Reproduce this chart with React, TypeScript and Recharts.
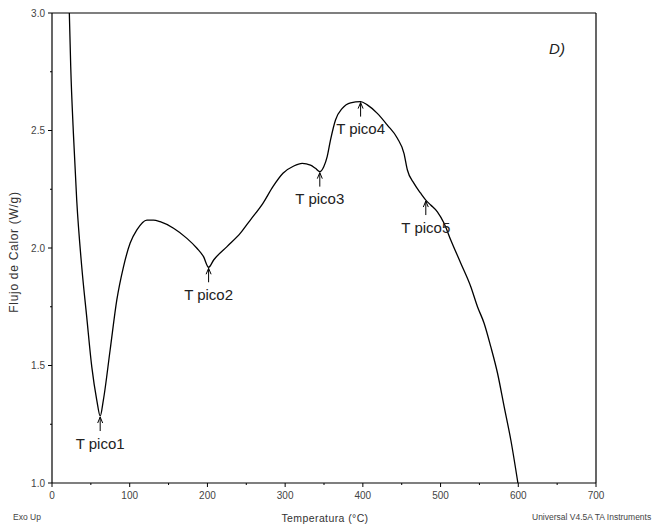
import { LineChart, Line, XAxis, YAxis, ReferenceLine, ReferenceDot } from "recharts";

const temperatura = [
  22.3, 24.1, 27.5, 31.8, 38.3, 44.7, 51.2, 57.6, 62, 66.1, 74.8, 83.4, 91.9,
  100.6, 109.2, 122.1, 130.6, 139.2, 156.4, 173.6, 186.5, 195, 201.5, 208,
  225.2, 242.4, 255.2, 271.4, 284.3, 297.2, 311.1, 321.9, 332.6, 339, 344.6,
  349.7, 354.1, 358.4, 364.8, 373.5, 384.2, 397.1, 405.7, 418.6, 431.5, 444.4,
  452.9, 457.3, 465.8, 474.4, 481, 487.3, 495.9, 504.5, 513.1, 526, 538.9,
  547.5, 556, 564.6, 573.3, 581.8, 590.4, 599.5,
];
const flujo = [
  3.0, 2.771, 2.49, 2.204, 1.919, 1.706, 1.494, 1.353, 1.285, 1.353, 1.566,
  1.779, 1.919, 2.021, 2.077, 2.119, 2.119, 2.112, 2.084, 2.041, 1.999, 1.963,
  1.918, 1.949, 2.006, 2.063, 2.119, 2.19, 2.261, 2.318, 2.349, 2.36, 2.353,
  2.339, 2.325, 2.346, 2.389, 2.46, 2.545, 2.594, 2.618, 2.623, 2.609, 2.573,
  2.523, 2.467, 2.403, 2.332, 2.275, 2.233, 2.204, 2.183, 2.154, 2.105, 2.034,
  1.935, 1.835, 1.75, 1.68, 1.58, 1.467, 1.325, 1.183, 1.0,
];

// Picos marcados
const picoNombres = ["T pico1", "T pico2", "T pico3", "T pico4", "T pico5"];
const picoTemp = [62, 201.5, 344.6, 397.1, 481];
const picoFlujo = [1.285, 1.918, 2.325, 2.623, 2.204];

const xTicks = [0, 50, 100, 150, 200, 250, 300, 350, 400, 450, 500, 550, 600, 650, 700];
const yTicks = [1.0, 1.25, 1.5, 1.75, 2.0, 2.25, 2.5, 2.75, 3.0];

const data = temperatura.map((t, i) => ({ t, f: flujo[i] }));

const FONT = "'Liberation Sans', Arial, sans-serif";

function XTick(props: any) {
  const { x, y, payload } = props;
  const major = payload.value % 100 === 0;
  return (
    <g>
      <line x1={x} y1={y} x2={x} y2={y + (major ? 4 : 2)} stroke="#000" />
      {major && (
        <text x={x} y={y + 12} textAnchor="middle" dominantBaseline="central" fontSize={10} fill="#444" fontFamily={FONT}>
          {payload.value}
        </text>
      )}
    </g>
  );
}

function YTick(props: any) {
  const { x, y, payload } = props;
  const major = Math.abs((payload.value * 2) % 1) < 1e-6;
  return (
    <g>
      <line x1={x} y1={y} x2={x - (major ? 4 : 2)} y2={y} stroke="#000" />
      {major && (
        <text x={x - 7} y={y} textAnchor="end" dominantBaseline="central" fontSize={10} fill="#444" fontFamily={FONT}>
          {payload.value.toFixed(1)}
        </text>
      )}
    </g>
  );
}

function Pico(props: any) {
  const { cx, cy, label } = props;
  return (
    <g>
      <path
        d={`M${cx},${cy + 15} L${cx},${cy + 1} M${cx - 2.5},${cy + 7} L${cx},${cy + 1} L${cx + 2.5},${cy + 7}`}
        stroke="#000"
        strokeWidth={1}
        fill="none"
      />
      <text x={cx} y={cy + 27} textAnchor="middle" dominantBaseline="central" fontSize={15} fill="#222" fontFamily={FONT}>
        {label}
      </text>
    </g>
  );
}

export default function App() {
  return (
    <div style={{ position: "absolute", left: 0, top: 0, width: 653, height: 529, background: "#fff" }}>
      <LineChart width={653} height={529} data={data} margin={{ top: 13, right: 57, bottom: 26, left: 8 }}>
        <XAxis
          dataKey="t"
          type="number"
          domain={[0, 700]}
          ticks={xTicks}
          interval={0}
          tickSize={0}
          tickMargin={0}
          tickLine={false}
          tick={<XTick />}
          height={20}
          stroke="#000"
          axisLine={{ stroke: "#000", strokeWidth: 1.2 }}
        />
        <YAxis
          type="number"
          domain={[1, 3]}
          ticks={yTicks}
          interval={0}
          tickSize={0}
          tickMargin={0}
          tickLine={false}
          tick={<YTick />}
          width={44}
          axisLine={{ stroke: "#000", strokeWidth: 1.2 }}
        />
        <ReferenceLine y={3} stroke="#000" strokeWidth={1.2} />
        <ReferenceLine x={700} stroke="#000" strokeWidth={1.2} />
        <Line
          dataKey="f"
          type="monotone"
          stroke="#000"
          strokeWidth={1.3}
          dot={false}
          isAnimationActive={false}
        />
        {picoNombres.map((n, i) => (
          <ReferenceDot
            key={n}
            x={picoTemp[i]}
            y={picoFlujo[i]}
            r={0}
            shape={(p: any) => <Pico {...p} label={n} />}
          />
        ))}
      </LineChart>
      <svg width={653} height={529} style={{ position: "absolute", left: 0, top: 0, pointerEvents: "none" }}>
        <text x={557} y={48} textAnchor="middle" dominantBaseline="central" fontSize={15} fontStyle="italic" fill="#222" fontFamily={FONT}>
          D)
        </text>
        <text
          x={14}
          y={252}
          transform="rotate(-90 14 252)"
          textAnchor="middle"
          dominantBaseline="central"
          fontSize={12}
          letterSpacing={0.7}
          fill="#333"
          fontFamily={FONT}
        >
          Flujo de Calor (W/g)
        </text>
        <text x={325} y={518} textAnchor="middle" dominantBaseline="central" fontSize={10.5} letterSpacing={0.4} fill="#333" fontFamily={FONT}>
          Temperatura (°C)
        </text>
        <text x={13} y={517} dominantBaseline="central" fontSize={8.5} fill="#444" fontFamily={FONT}>
          Exo Up
        </text>
        <text x={532} y={517} dominantBaseline="central" fontSize={8.5} fill="#444" fontFamily={FONT}>
          Universal V4.5A TA Instruments
        </text>
      </svg>
    </div>
  );
}
